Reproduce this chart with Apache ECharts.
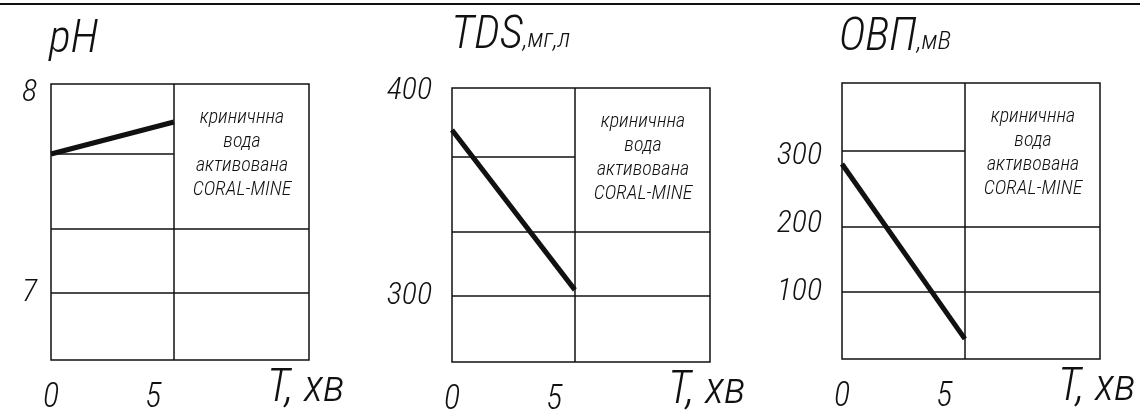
<!DOCTYPE html>
<html>
<head>
<meta charset="utf-8">
<script src="https://cdn.jsdelivr.net/npm/echarts@6/dist/echarts.min.js"></script>
<style>
  html, body { margin: 0; padding: 0; background: #fff; }
  #chart { width: 1140px; height: 419px; }
</style>
</head>
<body>
<div id="chart"></div>
<script>
// Time axis (minutes) and the measured values at start and end of activation
const timeMinutes = [0, 6];
const phValues = [7.695, 7.855];
const tdsValues = [381, 303];
const orpValues = [288, 31];

// Tick labels on each axis
const timeTicks = [0, 5];
const phTicks = [7, 8];
const tdsTicks = [300, 400];
const orpTicks = [100, 200, 300];

// Drawing-frame rule values: full-width rules and the rule in the left cell only
const phRules = [7.32, 7.0];
const phLeftRule = [7.695];
const tdsRules = [331.2, 300];
const tdsLeftRule = [367.8];
const orpRules = [195.6, 100];
const orpLeftRule = [307];

const noteLines = ['криничнна', 'вода', 'активована', 'CORAL-MINE'];
const axisTitle = 'T, хв';

const FONT = "'Roboto Condensed', 'DejaVu Sans Condensed', 'Liberation Sans Narrow', sans-serif";
const INK = '#111';

const panels = [
  { left: 51, top: 84, height: 276, yMin: 6.665, yMax: 8.045, ticks: phTicks, values: phValues,
    rules: phRules, leftRule: phLeftRule, labelMargin: 14, titleLeft: 44, titleTop: 4, title: '{big|pH}' },
  { left: 452, top: 88, height: 274, yMin: 267.8, yMax: 401.5, ticks: tdsTicks, values: tdsValues,
    rules: tdsRules, leftRule: tdsLeftRule, labelMargin: 20, titleLeft: 446, titleTop: 0, title: '{big|TDS}{small|,мг,л}' },
  { left: 842, top: 83, height: 276, yMin: 1.5, yMax: 407, ticks: orpTicks, values: orpValues,
    rules: orpRules, leftRule: orpLeftRule, labelMargin: 20, titleLeft: 834, titleTop: 2, title: '{big|ОВП}{small|,мВ}' }
];
const PANEL_W = 258;
const T_MAX = 12.6;
const MID_T = 6;

const grids = [], xAxes = [], yAxes = [], series = [], titles = [], graphics = [];

panels.forEach((p, i) => {
  grids.push({ left: p.left, top: p.top, width: PANEL_W, height: p.height,
    show: true, borderColor: INK, borderWidth: 1.5, backgroundColor: 'transparent' });
  xAxes.push({
    gridIndex: i, type: 'value', min: 0, max: T_MAX,
    axisLine: { show: false }, axisTick: { show: false }, splitLine: { show: false },
    axisLabel: { customValues: timeTicks, margin: 21, color: INK, fontFamily: FONT,
      fontStyle: 'italic', fontWeight: 300, fontSize: 34 },
    name: axisTitle, nameLocation: 'end', nameGap: 0,
    nameTextStyle: { color: INK, fontFamily: FONT, fontStyle: 'italic', fontWeight: 300,
      fontSize: 46, align: 'right', verticalAlign: 'top', padding: [6, -36, 0, 0] }
  });
  yAxes.push({
    gridIndex: i, type: 'value', min: p.yMin, max: p.yMax,
    axisLine: { show: false }, axisTick: { show: false }, splitLine: { show: false },
    axisLabel: { customValues: p.ticks, margin: p.labelMargin, color: INK, fontFamily: FONT,
      fontStyle: 'italic', fontWeight: 300, fontSize: 32 }
  });
  titles.push({
    text: p.title, left: p.titleLeft, top: p.titleTop,
    textStyle: { fontFamily: FONT, fontStyle: 'italic', fontWeight: 300, color: INK,
      rich: {
        big: { fontFamily: FONT, fontStyle: 'italic', fontWeight: 300, fontSize: 46, color: INK,
          lineHeight: 54, verticalAlign: 'bottom' },
        small: { fontFamily: FONT, fontStyle: 'italic', fontWeight: 300, fontSize: 26, color: INK,
          lineHeight: 54, verticalAlign: 'bottom', padding: [0, 0, 6, 0] }
      } }
  });
  const ruleStyle = { color: INK, width: 1.5, type: 'solid' };
  series.push({
    type: 'line', xAxisIndex: i, yAxisIndex: i,
    data: timeMinutes.map((t, k) => [t, p.values[k]]),
    symbol: 'none', lineStyle: { color: INK, width: 5 }, z: 5, silent: true,
    markLine: {
      silent: true, symbol: 'none', label: { show: false }, lineStyle: ruleStyle,
      animation: false,
      data: [{ xAxis: MID_T }]
        .concat(p.rules.map(v => ({ yAxis: v })))
        .concat(p.leftRule.map(v => [{ coord: [0, v] }, { coord: [MID_T, v] }]))
    }
  });
  // note in the upper-right cell
  graphics.push({
    type: 'text', x: p.left + 191, y: p.top + 22,
    style: { text: noteLines.join('\n'), fill: INK, font: "italic 300 20px " + FONT,
      align: 'center', verticalAlign: 'top', lineHeight: 24 }
  });
});

// drawing frame rule along the top edge
graphics.push({ type: 'line', shape: { x1: 0, y1: 4, x2: 1140, y2: 4 }, style: { stroke: INK, lineWidth: 2 } });

const chart = echarts.init(document.getElementById('chart'), null, { renderer: 'canvas' });
chart.setOption({
  animation: false,
  backgroundColor: '#fff',
  title: titles,
  grid: grids,
  xAxis: xAxes,
  yAxis: yAxes,
  series: series,
  graphic: graphics
});
</script>
</body>
</html>
